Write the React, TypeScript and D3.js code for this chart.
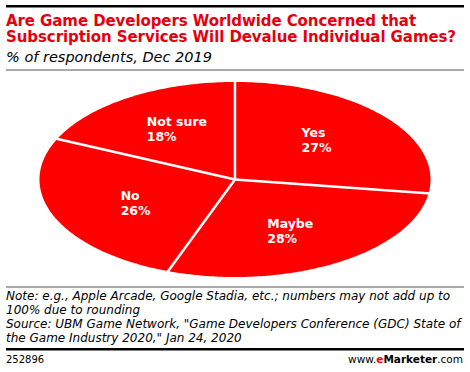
import React, { useEffect, useRef } from 'react';
import * as d3 from 'd3';

const categories = ['Yes', 'Maybe', 'No', 'Not sure'];
const values = [27, 28, 26, 18];
const titleLines = [
  'Are Game Developers Worldwide Concerned that',
  'Subscription Services Will Devalue Individual Games?',
];
const subtitle = '% of respondents, Dec 2019';
const noteLines = [
  'Note: e.g., Apple Arcade, Google Stadia, etc.; numbers may not add up to',
  '100% due to rounding',
  'Source: UBM Game Network, "Game Developers Conference (GDC) State of',
  'the Game Industry 2020," Jan 24, 2020',
];
const chartId = '252896';

const W = 470;
const H = 372;
const RED = '#ff0000';
const FONT = '"DejaVu Sans", Verdana, sans-serif';

const App = () => {
  const svgRef = useRef<SVGSVGElement>(null);

  useEffect(() => {
    const svg = d3.select(svgRef.current);
    svg.selectAll('*').remove();

    // header
    svg.append('rect').attr('x', 6).attr('y', 5).attr('width', 458).attr('height', 2.5).attr('fill', '#000');
    const titles = titleLines.map((t, i) =>
      svg.append('text')
        .attr('x', 6).attr('y', 25.7 + i * 16.7)
        .attr('font-family', FONT).attr('font-weight', 'bold').attr('font-size', 15)
        .attr('fill', '#e4000f')
        .text(t)
    );
    // tighten letter spacing so the longest line fits the header width
    const longestIdx = d3.maxIndex(titles, s => (s.node() as SVGTextElement).getComputedTextLength());
    const longLen = (titles[longestIdx].node() as SVGTextElement).getComputedTextLength();
    const ls = Math.min(0, (450 - longLen) / titleLines[longestIdx].length);
    titles.forEach(s => s.attr('letter-spacing', ls));

    svg.append('text')
      .attr('x', 6).attr('y', 61.5)
      .attr('font-family', FONT).attr('font-style', 'italic').attr('font-size', 14.5)
      .attr('fill', '#000')
      .text(subtitle);
    svg.append('rect').attr('x', 6).attr('y', 69.5).attr('width', 458).attr('height', 1).attr('fill', '#555');

    // pie, drawn on a unit circle then squashed into an ellipse
    const cx = 235, cy = 179.5, rx = 195.5, ry = 97.5;
    const sx = d3.scaleLinear().domain([-1, 1]).range([cx - rx, cx + rx]);
    const sy = d3.scaleLinear().domain([-1, 1]).range([cy - ry, cy + ry]);

    const pie = d3.pie<number>().sort(null).value(d => d);
    const arcs = pie(values);

    const pts = (a0: number, a1: number) => {
      const n = Math.max(8, Math.ceil((a1 - a0) * 60));
      const p: [number, number][] = [[sx(0), sy(0)]];
      for (let i = 0; i <= n; i++) {
        const a = a0 + (a1 - a0) * (i / n);
        p.push([sx(Math.sin(a)), sy(-Math.cos(a))]);
      }
      return p;
    };
    const line = d3.line().curve(d3.curveLinearClosed);

    const g = svg.append('g');
    g.selectAll('path.slice')
      .data(arcs)
      .enter()
      .append('path')
      .attr('class', 'slice')
      .attr('d', d => line(pts(d.startAngle, d.endAngle)))
      .attr('fill', RED);

    // white separators
    g.selectAll('line.sep')
      .data(arcs)
      .enter()
      .append('line')
      .attr('x1', sx(0)).attr('y1', sy(0))
      .attr('x2', d => sx(Math.sin(d.startAngle) * 1.01))
      .attr('y2', d => sy(-Math.cos(d.startAngle) * 1.01))
      .attr('stroke', '#fff').attr('stroke-width', 2.5);

    // labels
    const kx = 0.55, ky = 0.62;
    arcs.forEach((d, i) => {
      const mid = (d.startAngle + d.endAngle) / 2;
      const lx = sx(Math.sin(mid) * kx);
      const ly = sy(-Math.cos(mid) * ky);
      const lg = g.append('g');
      const t = lg.append('text')
        .attr('font-family', FONT).attr('font-weight', 'bold').attr('font-size', 12.5)
        .attr('fill', '#fff');
      t.append('tspan').attr('x', 0).attr('y', 0).text(categories[i]);
      t.append('tspan').attr('x', 0).attr('y', 15).text(`${values[i]}%`);
      const bb = (lg.node() as SVGGElement).getBBox();
      lg.attr('transform', `translate(${lx - bb.x - bb.width / 2},${ly - bb.y - bb.height / 2})`);
    });

    // footer
    svg.append('rect').attr('x', 6).attr('y', 286.5).attr('width', 458).attr('height', 1).attr('fill', '#555');
    noteLines.forEach((t, i) => {
      svg.append('text')
        .attr('x', 6).attr('y', 300 + i * 14)
        .attr('font-family', FONT).attr('font-style', 'italic').attr('font-size', 12)
        .attr('fill', '#000')
        .text(t);
    });
    svg.append('rect').attr('x', 6).attr('y', 348).attr('width', 458).attr('height', 2.5).attr('fill', '#000');
    svg.append('text')
      .attr('x', 6).attr('y', 363)
      .attr('font-family', FONT).attr('font-size', 10)
      .attr('fill', '#000')
      .text(chartId);
    const brand = svg.append('text')
      .attr('x', 463).attr('y', 363)
      .attr('text-anchor', 'end')
      .attr('font-family', FONT).attr('font-size', 10.5)
      .attr('fill', '#000');
    brand.append('tspan').text('www.');
    brand.append('tspan').attr('fill', RED).attr('font-weight', 'bold').text('e');
    brand.append('tspan').attr('font-weight', 'bold').text('Marketer');
    brand.append('tspan').text('.com');
  }, []);

  return (
    <svg
      ref={svgRef}
      width={W}
      height={H}
      style={{ position: 'absolute', left: 0, top: 0, background: '#fff' }}
    />
  );
};

export default App;
